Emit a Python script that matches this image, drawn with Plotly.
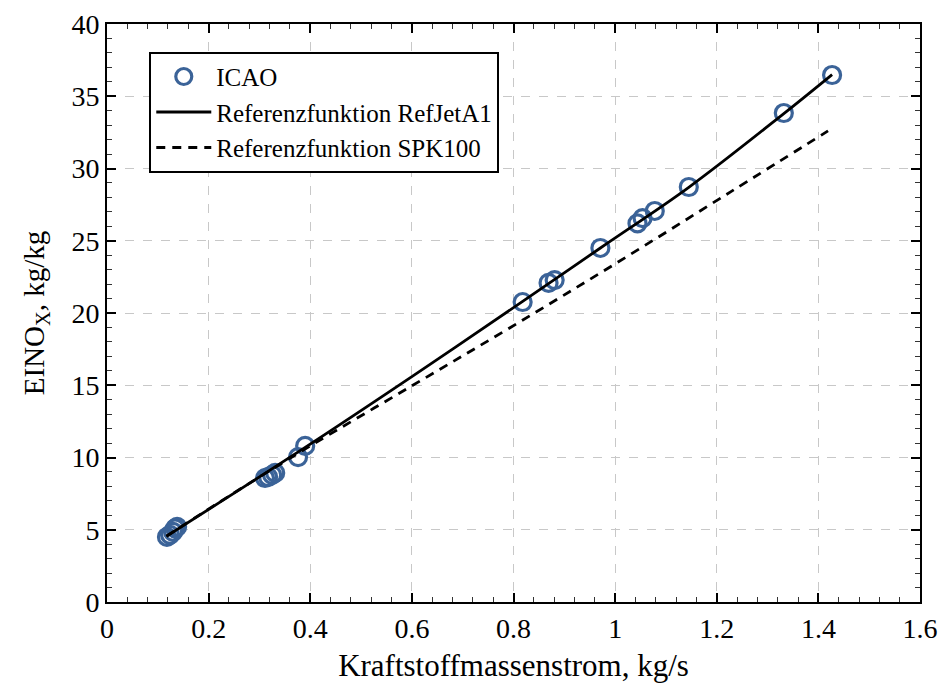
import plotly.graph_objects as go

# ICAO data points
icao_x = [0.118, 0.124, 0.130, 0.134, 0.138, 0.311, 0.317, 0.325, 0.331, 0.376, 0.390,
          0.818, 0.869, 0.881, 0.971, 1.044, 1.054, 1.078, 1.145, 1.332, 1.427]
icao_y = [4.50, 4.65, 4.85, 5.10, 5.20, 8.58, 8.65, 8.79, 8.93, 10.03, 10.80,
          20.76, 22.08, 22.28, 24.50, 26.20, 26.57, 27.06, 28.72, 33.84, 36.47]

# Reference function RefJetA1
ref_x = [0.117, 0.39, 0.6, 0.818, 0.971, 1.145, 1.332, 1.427]
ref_y = [4.55, 10.7, 15.6, 20.8, 24.5, 28.7, 33.8, 36.5]

# Reference function SPK100
spk_x = [0.117, 0.25, 0.40, 0.60, 0.794, 1.0, 1.228, 1.419]
spk_y = [4.55, 7.55, 10.8, 14.96, 19.0, 23.4, 28.4, 32.6]

# Tick labels
x_ticks = [0, 0.2, 0.4, 0.6, 0.8, 1.0, 1.2, 1.4, 1.6]
x_ticklabels = ["0", "0.2", "0.4", "0.6", "0.8", "1", "1.2", "1.4", "1.6"]

FONT = "Liberation Serif"
MARKER_COLOR = "#3b6398"

fig = go.Figure()
fig.add_trace(go.Scatter(
    x=icao_x, y=icao_y, mode="markers", name="ICAO",
    marker=dict(symbol="circle-open", size=17, color=MARKER_COLOR,
                line=dict(width=3.2, color=MARKER_COLOR)),
))
fig.add_trace(go.Scatter(
    x=ref_x, y=ref_y, mode="lines", name="Referenzfunktion RefJetA1",
    line=dict(color="black", width=2.8, shape="spline"),
))
fig.add_trace(go.Scatter(
    x=spk_x, y=spk_y, mode="lines", name="Referenzfunktion SPK100",
    line=dict(color="black", width=2.8, dash="9px,7px", shape="spline"),
))

axis_common = dict(
    showline=True, linecolor="black", linewidth=2, mirror="ticks",
    ticks="inside", ticklen=9, tickwidth=2, tickcolor="black",
    showgrid=True, gridcolor="#c8c8c8", griddash="dash", gridwidth=1,
    zeroline=False, automargin=False,
    tickfont=dict(family=FONT, size=28, color="black"),
)

fig.update_xaxes(
    range=[0, 1.6],
    tickvals=x_ticks, ticktext=x_ticklabels,
    minor=dict(ticks="inside", dtick=0.04, ticklen=5, tickwidth=1, tickcolor="#333", showgrid=False),
    title=dict(text="Kraftstoffmassenstrom, kg/s", font=dict(family=FONT, size=31, color="black"), standoff=12),
    **axis_common,
)
fig.update_yaxes(
    range=[0, 40], tick0=0, dtick=5,
    minor=dict(ticks="inside", dtick=1, ticklen=5, tickwidth=1, tickcolor="#333", showgrid=False),
    title=dict(text="EINO<sub>X</sub>, kg/kg", font=dict(family=FONT, size=29, color="black"), standoff=18),
    **axis_common,
)

fig.update_layout(
    width=941, height=684,
    margin=dict(l=107, r=21, t=24, b=82),
    paper_bgcolor="white", plot_bgcolor="white",
    font=dict(family=FONT, color="black"),
    legend=dict(
        x=0.052, y=0.952, xanchor="left", yanchor="top",
        bgcolor="white", bordercolor="black", borderwidth=2,
        font=dict(family=FONT, size=25, color="black"),
        tracegroupgap=0, itemwidth=55,
    ),
    showlegend=True,
)

fig.write_html("out.html")
